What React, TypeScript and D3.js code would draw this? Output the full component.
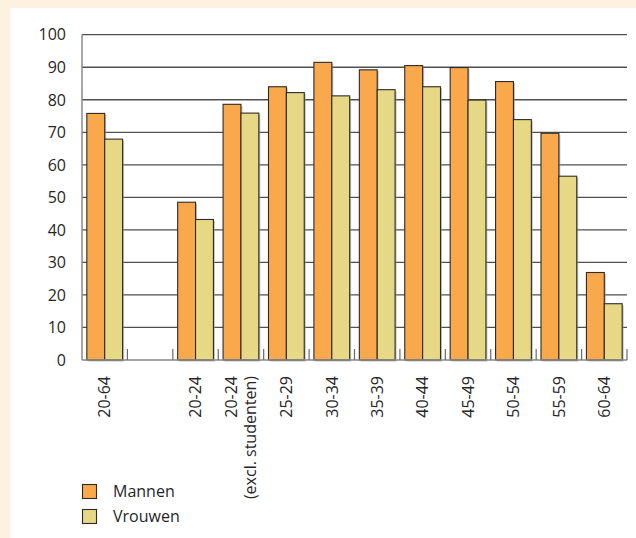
import React from "react";
import * as d3 from "d3";

const categories = ["20-64", "", "20-24", "20-24|(excl. studenten)", "25-29", "30-34", "35-39", "40-44", "45-49", "50-54", "55-59", "60-64"];
const mannen: (number | null)[] = [75.8, null, 48.5, 78.6, 84.0, 91.5, 89.2, 90.5, 89.9, 85.6, 69.7, 26.9];
const vrouwen: (number | null)[] = [67.9, null, 43.2, 75.9, 82.2, 81.2, 83.1, 84.0, 79.9, 73.9, 56.5, 17.3];
const yTicks = [0, 10, 20, 30, 40, 50, 60, 70, 80, 90, 100];
const seriesNames = ["Mannen", "Vrouwen"];
const colors = ["#f9a94b", "#e6d884"];

const W = 636;
const H = 538;
const FONT = "'Open Sans', 'Noto Sans', sans-serif";
const FS = 16;

export default function App() {
  const x = d3.scaleBand<string>().domain(categories.map((_, i) => String(i))).range([82, 627]).paddingInner(0).paddingOuter(0);
  const y = d3.scaleLinear().domain([0, 100]).range([360, 34.7]);
  const sub = d3.scaleBand<string>().domain(["0", "1"]).range([0, x.bandwidth()]).paddingInner(0).paddingOuter(0.27);
  const series = [mannen, vrouwen];

  return (
    <svg width={W} height={H} style={{ position: "absolute", left: 0, top: 0 }} fontFamily={FONT}>
      <rect x={0} y={0} width={W} height={H} fill="#fdf1df" />
      <rect x={10} y={8} width={W - 10} height={H - 8} fill="#ffffff" />
      {/* gridlines */}
      {yTicks.filter((t) => t > 0).map((t) => (
        <line key={t} x1={82} x2={627} y1={y(t)} y2={y(t)} stroke="#4f4f4f" strokeWidth={1.3} />
      ))}
      {/* y labels */}
      {yTicks.map((t) => (
        <text key={t} x={66} y={y(t)} dy="0.36em" textAnchor="end" fontSize={FS} fill="#262626">
          {t}
        </text>
      ))}
      {/* bars */}
      {categories.map((c, i) =>
        series.map((s, j) => {
          const v = s[i];
          if (v == null) return null;
          const bx = (x(String(i)) as number) + (sub(String(j)) as number);
          const bw = sub.bandwidth();
          return (
            <g key={`${i}-${j}`}>
              <rect x={bx + 1.5} y={y(v) + 1.5} width={bw} height={y(0) - y(v)} fill="#9a9a9a" opacity={0.6} />
              <rect x={bx} y={y(v)} width={bw} height={y(0) - y(v)} fill={colors[j]} stroke="#2b2b2b" strokeWidth={1.1} />
            </g>
          );
        })
      )}
      {/* axes */}
      <line x1={82} x2={82} y1={34.7} y2={360} stroke="#8a8a8a" strokeWidth={1.5} />
      <line x1={82} x2={627} y1={360} y2={360} stroke="#8a8a8a" strokeWidth={1.5} />
      {categories.map((_, i) => (
        <line key={i} x1={(x(String(i)) as number) + x.bandwidth()} x2={(x(String(i)) as number) + x.bandwidth()} y1={349} y2={360} stroke="#6a6a6a" strokeWidth={1.2} />
      ))}
      {/* x labels */}
      {categories.map((c, i) => {
        if (!c) return null;
        const lines = c.split("|");
        const cx = (x(String(i)) as number) + x.bandwidth() / 2;
        const lh = 19;
        return lines.map((ln, k) => {
          const lx = cx + (k - (lines.length - 1) / 2) * lh;
          return (
            <text key={`${i}-${k}`} transform={`translate(${lx},376) rotate(-90)`} textAnchor="end" dy="0.36em" fontSize={FS} fill="#262626">
              {ln}
            </text>
          );
        });
      })}
      {/* legend */}
      {seriesNames.map((n, j) => (
        <g key={n} transform={`translate(82,${484 + j * 25})`}>
          <rect x={0.5} y={0.5} width={14} height={14} fill={colors[j]} stroke="#2b2b2b" strokeWidth={1.1} />
          <text x={31} y={7.5} dy="0.36em" fontSize={FS} fill="#262626">
            {n}
          </text>
        </g>
      ))}
    </svg>
  );
}
